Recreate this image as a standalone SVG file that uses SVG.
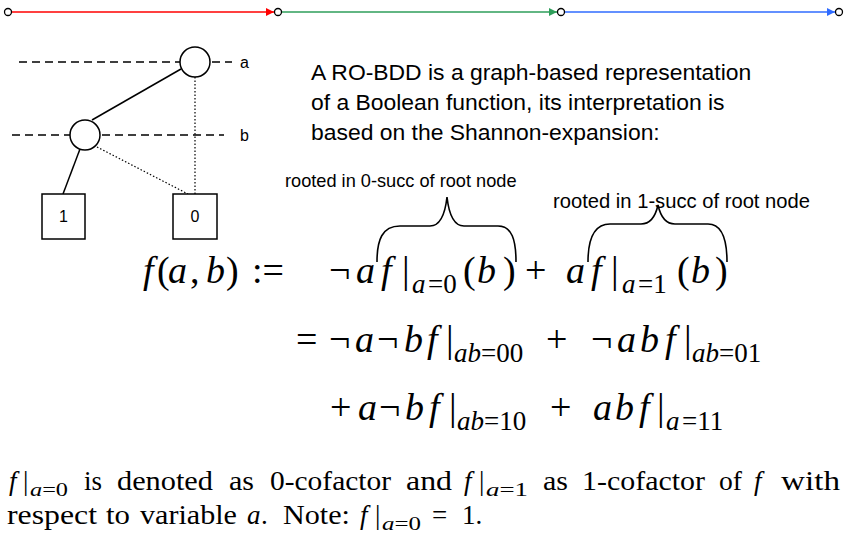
<svg xmlns="http://www.w3.org/2000/svg" width="854" height="537" viewBox="0 0 854 537">
<defs>
<style>
.bg{fill:#ffffff}
.dot{fill:#ffffff;stroke:#000;stroke-width:1.3}
.nd{fill:#ffffff;stroke:#000;stroke-width:1.5}
.lvl{stroke:#000;stroke-width:1.3;stroke-dasharray:8,5;fill:none}
.hi{stroke:#000;stroke-width:1.5;fill:none}
.lo{stroke:#000;stroke-width:1.2;stroke-dasharray:1.5,2;fill:none}
.br{stroke:#000;stroke-width:1.6;fill:none}
.sans{font-family:"Liberation Sans",Arial,sans-serif;fill:#000}
.p{font-size:22.9px}
.r0{font-size:18.2px}
.r1{font-size:20.2px}
.lbl{font-size:16px}
.m{font-family:"Liberation Serif","Times New Roman",serif;font-size:38px;fill:#000}
.s{font-size:27px}
.i{font-style:italic}
.b{font-family:"Liberation Serif","Times New Roman",serif;font-size:27px;fill:#000}
.bs{font-size:19px}
</style>
<marker id="ar" viewBox="0 0 10 10" refX="10" refY="5" markerWidth="8" markerHeight="8" markerUnits="userSpaceOnUse" orient="auto"><path d="M0,0 L10,5 L0,10 z" fill="#ff0000"/></marker>
<marker id="ag" viewBox="0 0 10 10" refX="10" refY="5" markerWidth="8" markerHeight="8" markerUnits="userSpaceOnUse" orient="auto"><path d="M0,0 L10,5 L0,10 z" fill="#2e9e5a"/></marker>
<marker id="ab" viewBox="0 0 10 10" refX="10" refY="5" markerWidth="8" markerHeight="8" markerUnits="userSpaceOnUse" orient="auto"><path d="M0,0 L10,5 L0,10 z" fill="#2f6bff"/></marker>
</defs>
<rect class="bg" x="0" y="0" width="854" height="537"/>

<g id="connectors">
<line x1="12" y1="12" x2="274" y2="12" stroke="#ff0000" stroke-width="1.5" marker-end="url(#ar)"/>
<line x1="282" y1="12" x2="557" y2="12" stroke="#2e9e5a" stroke-width="1.5" marker-end="url(#ag)"/>
<line x1="565" y1="12" x2="835" y2="12" stroke="#2f6bff" stroke-width="1.5" marker-end="url(#ab)"/>
<line class="hi" x1="181" y1="69" x2="92" y2="120"/>
<line class="lo" x1="195" y1="77" x2="195" y2="194"/>
<line class="lo" x1="97" y1="147" x2="188" y2="194"/>
<line class="hi" x1="80" y1="149" x2="63" y2="194"/>
</g>

<g id="top-points">
<circle class="dot" cx="8" cy="12" r="3.5"/>
<circle class="dot" cx="278" cy="12" r="3.5"/>
<circle class="dot" cx="561" cy="12" r="3.5"/>
<circle class="dot" cx="839" cy="12" r="3.5"/>
</g>

<g id="levels">
<line class="lvl" x1="19" y1="62" x2="180" y2="62"/>
<line class="lvl" x1="212" y1="62" x2="232" y2="62"/>
<text class="sans lbl" x="240" y="68">a</text>
<line class="lvl" x1="12" y1="135" x2="70" y2="135"/>
<line class="lvl" x1="102" y1="135" x2="224" y2="135"/>
<text class="sans lbl" x="240" y="141">b</text>
</g>

<g id="node-a"><circle class="nd" cx="195" cy="62" r="15"/></g>
<g id="node-b"><circle class="nd" cx="85" cy="135" r="15"/></g>
<g id="term-1"><rect class="nd" x="42" y="194" width="43" height="45"/><text class="sans lbl" x="63.5" y="222" text-anchor="middle">1</text></g>
<g id="term-0"><rect class="nd" x="173" y="194" width="44" height="45"/><text class="sans lbl" x="195" y="222" text-anchor="middle">0</text></g>

<g id="paragraph">
<text class="sans p" x="311" y="80">A RO-BDD is a graph-based representation</text>
<text class="sans p" x="311" y="110">of a Boolean function, its interpretation is</text>
<text class="sans p" x="311" y="140">based on the Shannon-expansion:</text>
</g>

<g id="brace-0">
<text class="sans r0" x="285" y="187">rooted in 0-succ of root node</text>
<path class="br" d="M377,262 C377,240 382,226 400,226 L430,226 C440,226 445,215 447,197 C449,215 454,226 464,226 L498,226 C512,226 516,240 516,262"/>
</g>
<g id="brace-1">
<text class="sans r1" x="553" y="208">rooted in 1-succ of root node</text>
<path class="br" d="M588,262 C588,240 593,224 610,224 L641,224 C651,224 656,214 658,205 C660,214 665,224 675,224 L708,224 C722,224 727,240 727,262"/>
</g>

<g id="formula">
<text class="m" y="283"><tspan class="i" x="143">f</tspan><tspan x="157">(</tspan><tspan class="i" x="168">a</tspan><tspan x="190">,</tspan><tspan class="i" x="206">b</tspan><tspan x="226">)</tspan><tspan x="252">:=</tspan><tspan x="329">¬</tspan><tspan class="i" x="356">a</tspan><tspan class="i" x="381">f</tspan><tspan x="402">|</tspan><tspan x="463">(</tspan><tspan class="i" x="477">b</tspan><tspan x="503">)</tspan><tspan x="525">+</tspan><tspan class="i" x="566">a</tspan><tspan class="i" x="591">f</tspan><tspan x="611">|</tspan><tspan x="677">(</tspan><tspan class="i" x="691">b</tspan><tspan x="715">)</tspan></text>
<text class="m s" y="293"><tspan class="i" x="412">a</tspan><tspan x="428">=0</tspan><tspan class="i" x="622">a</tspan><tspan x="638">=1</tspan></text>

<text class="m" y="352"><tspan x="296">=</tspan><tspan x="329">¬</tspan><tspan class="i" x="355">a</tspan><tspan x="377">¬</tspan><tspan class="i" x="404">b</tspan><tspan class="i" x="427">f</tspan><tspan x="446">|</tspan><tspan x="546">+</tspan><tspan x="591">¬</tspan><tspan class="i" x="617">a</tspan><tspan class="i" x="640">b</tspan><tspan class="i" x="665">f</tspan><tspan x="684">|</tspan></text>
<text class="m s" y="362"><tspan class="i" x="454">ab</tspan><tspan x="481">=00</tspan><tspan class="i" x="692">ab</tspan><tspan x="719">=01</tspan></text>

<text class="m" y="420"><tspan x="330">+</tspan><tspan class="i" x="358">a</tspan><tspan x="379">¬</tspan><tspan class="i" x="405">b</tspan><tspan class="i" x="429">f</tspan><tspan x="449">|</tspan><tspan x="550">+</tspan><tspan class="i" x="593">a</tspan><tspan class="i" x="615">b</tspan><tspan class="i" x="639">f</tspan><tspan x="657">|</tspan></text>
<text class="m s" y="430"><tspan class="i" x="457">ab</tspan><tspan x="484">=10</tspan><tspan class="i" x="666">a</tspan><tspan x="682">=11</tspan></text>
</g>

<g id="note">
<text class="b" y="490"><tspan class="i" x="9">f</tspan><tspan x="23">|</tspan><tspan x="84" textLength="18" lengthAdjust="spacingAndGlyphs">is</tspan><tspan x="117" textLength="96" lengthAdjust="spacingAndGlyphs">denoted</tspan><tspan x="229" textLength="25" lengthAdjust="spacingAndGlyphs">as</tspan><tspan x="270" textLength="121" lengthAdjust="spacingAndGlyphs">0-cofactor</tspan><tspan x="406" textLength="46" lengthAdjust="spacingAndGlyphs">and</tspan><tspan class="i" x="464">f</tspan><tspan x="479">|</tspan><tspan x="543" textLength="25" lengthAdjust="spacingAndGlyphs">as</tspan><tspan x="582" textLength="123" lengthAdjust="spacingAndGlyphs">1-cofactor</tspan><tspan x="719" textLength="23" lengthAdjust="spacingAndGlyphs">of</tspan><tspan class="i" x="754">f</tspan><tspan x="781" textLength="59" lengthAdjust="spacingAndGlyphs">with</tspan></text>
<text class="b bs" y="496"><tspan x="30" textLength="38" lengthAdjust="spacingAndGlyphs"><tspan class="i">a</tspan>=0</tspan><tspan x="486" textLength="42" lengthAdjust="spacingAndGlyphs"><tspan class="i">a</tspan>=1</tspan></text>
<text class="b" y="524"><tspan x="7" textLength="90" lengthAdjust="spacingAndGlyphs">respect</tspan><tspan x="106" textLength="24" lengthAdjust="spacingAndGlyphs">to</tspan><tspan x="140" textLength="97" lengthAdjust="spacingAndGlyphs">variable</tspan><tspan class="i" x="247">a</tspan><tspan x="261">.</tspan><tspan x="283" textLength="67" lengthAdjust="spacingAndGlyphs">Note:</tspan><tspan class="i" x="360">f</tspan><tspan x="375">|</tspan><tspan x="432">=</tspan><tspan x="462">1.</tspan></text>
<text class="b bs" y="530"><tspan x="382" textLength="39" lengthAdjust="spacingAndGlyphs"><tspan class="i">a</tspan>=0</tspan></text>
</g>
</svg>
